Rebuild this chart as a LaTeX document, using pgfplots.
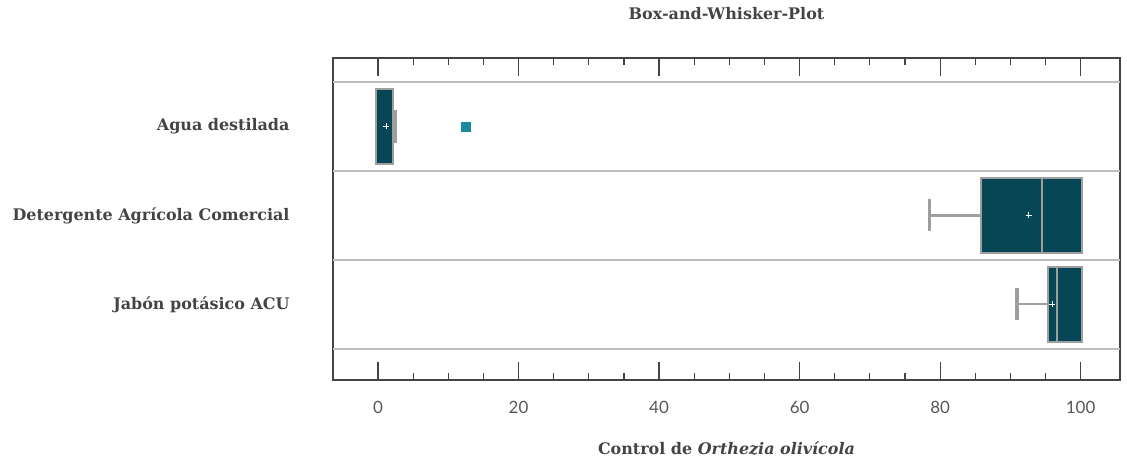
\documentclass[border=0pt]{standalone}
\usepackage{fontspec}
\usepackage{pgfplots}
\pgfplotsset{compat=1.18}
\usepgfplotslibrary{statistics}
\setmainfont{DejaVu Serif}
\newfontfamily\tickfont{Lato}
\definecolor{boxfill}{HTML}{074654}
\definecolor{boxedge}{HTML}{9E9E9E}
\definecolor{outl}{HTML}{1B8A9E}
\definecolor{frame}{HTML}{444444}
\definecolor{sep}{HTML}{BDBDBD}
\definecolor{txt}{HTML}{444444}
\begin{document}
\begin{tikzpicture}
\path[use as bounding box] (-333bp,-82bp) rectangle (794bp,380bp);
\begin{axis}[
  at={(0,0)}, anchor=south west,
  scale only axis, width=787bp, height=322bp,
  xmin=-6.4, xmax=105.6,
  ymin=-0.77, ymax=2.85, y dir=reverse,
  axis line style={draw=frame, line width=1.4bp},
  xtick={0,20,...,100}, minor x tick num=3,
  xtick pos=both,
  tick align=inside,
  major tick length=18bp, minor tick length=7bp,
  x tick style={draw=frame, line width=1.2bp},
  /pgf/number format/assume math mode=true,
  x tick label style={font=\tickfont\fontsize{17}{20}\selectfont, text=txt!90, yshift=-18bp},
  ytick={0,1,2},
  yticklabels={Agua destilada, Detergente Agrícola Comercial, Jabón potásico ACU},
  y tick style={draw=none},
  y tick label style={font=\bfseries\fontsize{16}{19}\selectfont, text=txt, xshift=-40bp},
  extra y ticks={-0.5,0.5,1.5,2.5}, extra y tick labels={},
  extra y tick style={grid=major, major grid style={draw=sep, line width=1.5bp}, tick style={draw=none}},
  title={Box-and-Whisker-Plot},
  title style={at={(axis description cs:0.5,1)}, anchor=base, yshift=33bp, font=\bfseries\fontsize{16}{19}\selectfont, text=txt},
  xlabel={Control de \textit{Orthezia olivícola}},
  xlabel style={at={(axis description cs:0.5,0)}, anchor=base, yshift=-74bp, font=\bfseries\fontsize{16}{19}\selectfont, text=txt},
  boxplot/draw direction=x,
  boxplot/box extend=0.835,
  boxplot/whisker extend=0.36,
  boxplot/every box/.style={draw=boxedge, fill=boxfill, line width=2bp},
  boxplot/every median/.style={draw=boxedge, line width=2bp},
  boxplot/every average/.style={/tikz/mark=+, /tikz/mark size=3bp, /tikz/line width=0.9bp},
  boxplot/draw/lower whisker/.code={
    \draw[draw=boxedge, line width=2.2bp] (boxplot cs:\pgfplotsboxplotvalue{lower whisker}) -- (boxplot cs:\pgfplotsboxplotvalue{lower quartile});
    \draw[draw=boxedge, line width=3.8bp] (boxplot whisker cs:\pgfplotsboxplotvalue{lower whisker},0) -- (boxplot whisker cs:\pgfplotsboxplotvalue{lower whisker},1);
  },
  boxplot/draw/upper whisker/.code={
    \draw[draw=boxedge, line width=2.2bp] (boxplot cs:\pgfplotsboxplotvalue{upper whisker}) -- (boxplot cs:\pgfplotsboxplotvalue{upper quartile});
    \draw[draw=boxedge, line width=3.8bp] (boxplot whisker cs:\pgfplotsboxplotvalue{upper whisker},0) -- (boxplot whisker cs:\pgfplotsboxplotvalue{upper whisker},1);
  },
]
% Agua destilada
\addplot[white, boxplot prepared={draw position=0, lower whisker=-0.3, lower quartile=-0.3, median=-0.3, upper quartile=2.1, upper whisker=2.4, average=1.2},
  boxplot/draw/lower whisker/.code={}]
  coordinates {};
% outlier of Agua destilada
\addplot[only marks, mark=square*, mark size=4.5bp, color=outl] coordinates {(12.5,0)};
% Detergente
\addplot[white, boxplot prepared={draw position=1, lower whisker=78.5, lower quartile=85.8, median=94.5, upper quartile=100.2, upper whisker=100.2, average=92.6},
  boxplot/draw/upper whisker/.code={}]
  coordinates {};
% Jabon
\addplot[white, boxplot prepared={draw position=2, lower whisker=90.9, lower quartile=95.4, median=96.6, upper quartile=100.2, upper whisker=100.2, average=95.9},
  boxplot/draw/upper whisker/.code={}]
  coordinates {};
\end{axis}
\end{tikzpicture}
\end{document}
